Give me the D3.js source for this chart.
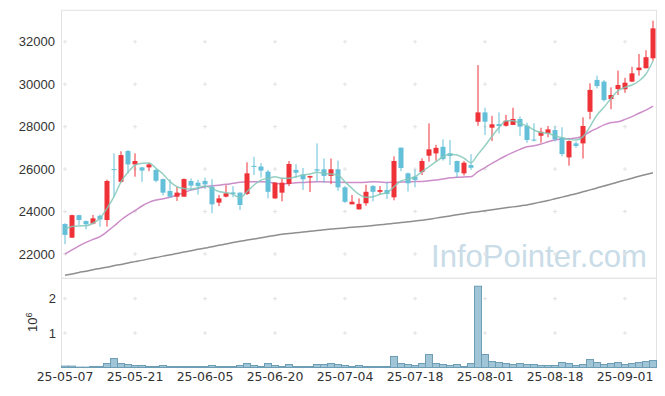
<!DOCTYPE html>
<html>
<head>
<meta charset="utf-8">
<title>Price chart</title>
<script src="https://cdn.jsdelivr.net/npm/d3@7"></script>
<style>
  body { margin: 0; background: #fff; }
  text { font-family: "Liberation Sans", Arial, sans-serif; }
</style>
</head>
<body>
<svg id="chart" width="665" height="396"></svg>
<script>
// trading days, yy-mm-dd
var dates = [
  "25-05-07","25-05-08","25-05-09","25-05-12","25-05-13","25-05-14","25-05-15","25-05-16","25-05-19","25-05-20",
  "25-05-21","25-05-22","25-05-23","25-05-26","25-05-27","25-05-28","25-05-29","25-05-30","25-06-02","25-06-04",
  "25-06-05","25-06-09","25-06-10","25-06-11","25-06-12","25-06-13","25-06-16","25-06-17","25-06-18","25-06-19",
  "25-06-20","25-06-23","25-06-24","25-06-25","25-06-26","25-06-27","25-06-30","25-07-01","25-07-02","25-07-03",
  "25-07-04","25-07-07","25-07-08","25-07-09","25-07-10","25-07-11","25-07-14","25-07-15","25-07-16","25-07-17",
  "25-07-18","25-07-21","25-07-22","25-07-23","25-07-24","25-07-25","25-07-28","25-07-29","25-07-30","25-07-31",
  "25-08-01","25-08-04","25-08-05","25-08-06","25-08-07","25-08-08","25-08-11","25-08-12","25-08-13","25-08-14",
  "25-08-18","25-08-19","25-08-20","25-08-21","25-08-22","25-08-25","25-08-26","25-08-27","25-08-28","25-08-29",
  "25-09-01","25-09-02","25-09-03","25-09-04","25-09-05"
];

var open = [
  23410,22770,23830,23550,23430,23800,23600,26000,25400,26850,
  26220,26080,26080,25960,25530,24970,24700,24700,25440,25360,
  25440,25170,24420,24700,24900,24890,24830,26150,26120,25880,
  24620,24890,25300,25960,25750,25600,25990,25990,25680,25990,
  25140,24340,24100,24390,25200,24930,25010,24670,27010,25800,
  25640,25860,26630,26740,27050,26740,26380,25800,26190,28230,
  28670,27950,28120,28040,28080,28360,28040,27390,27570,27690,
  27840,27480,26550,27210,27210,28700,30200,30120,29300,29770,
  29760,30120,30660,30750,31220
];
var high = [
  23450,23850,23850,23580,23840,23860,25500,26740,26840,26900,
  26740,26100,26300,26030,25550,25520,25170,25560,25560,25500,
  25600,25520,24780,25240,25200,24900,26320,26580,26280,25960,
  25380,25580,26380,26230,26050,25690,27210,26500,26500,26400,
  25200,24780,24620,25260,25250,25200,25380,26600,27010,25840,
  25990,26510,28150,27140,27400,27370,26400,26380,26700,30900,
  28890,28510,28670,28550,28890,28480,28190,28160,27950,28030,
  28000,27970,27350,27300,28440,30040,30400,30200,29850,30640,
  30300,30820,31420,31600,32990
];
var low = [
  22460,22750,23370,23160,23400,23290,23290,24700,25360,25800,
  25640,25400,25900,25380,24760,24650,24500,24700,24990,24800,
  25060,23920,24260,24670,24670,24070,24780,25720,25600,24620,
  24590,24480,25200,25580,25020,24920,25400,25350,25290,24970,
  24400,24340,24100,24270,24480,24810,24590,24530,25900,24940,
  25140,25720,26350,26390,26400,26190,25600,25700,25960,28040,
  27600,27320,27680,28000,28080,27560,27240,27300,27240,27500,
  27300,26600,26160,27000,26500,28350,29800,29180,28820,29490,
  29590,30100,30400,30750,31100
];
var close = [
  22900,23830,23600,23400,23680,23630,25440,25980,26660,26220,
  26380,25930,26220,25450,24890,24700,24890,25530,25220,25200,
  25280,24340,24620,24860,24830,24310,25800,26140,25930,24930,
  25360,25360,26240,25830,25520,25670,25930,25680,25990,25140,
  24460,24460,24360,24930,24930,25010,24830,26380,26050,25330,
  25490,26380,26930,27000,26470,26620,25850,26300,26060,28670,
  28230,28110,28030,28280,28360,28000,27370,27370,27760,27870,
  27400,26710,27320,27090,28030,29730,29910,29250,29490,29960,
  30070,30510,30780,31270,32630
];
var volume = [
  40000,40000,10000,10000,30000,30000,116000,260000,116000,87000,
  58000,58000,29000,29000,58000,29000,29000,29000,29000,29000,
  29000,58000,29000,29000,29000,58000,116000,58000,29000,116000,
  58000,29000,87000,29000,29000,29000,87000,87000,116000,87000,
  58000,29000,58000,29000,29000,29000,29000,320000,116000,87000,
  58000,116000,377000,116000,87000,58000,87000,29000,116000,2360000,
  377000,174000,145000,116000,87000,116000,87000,87000,58000,58000,
  58000,145000,116000,58000,87000,232000,145000,87000,116000,145000,
  87000,116000,145000,174000,203000
];

// moving averages as drawn
var ma5 = [
  23180,23290,23320,23330,23450,23680,24150,24700,25400,25850,
  26180,26270,26290,26040,25770,25410,25170,25090,25060,25120,
  25200,25090,24940,24890,24810,24650,24930,25250,25480,25560,
  25640,25570,25570,25640,25720,25770,25850,25800,25770,25720,
  25400,25090,24810,24670,24700,24810,24890,25170,25440,25530,
  25640,25880,26110,26350,26580,26700,26660,26510,26300,26700,
  27100,27550,27950,28280,28280,28160,28030,27840,27720,27690,
  27560,27480,27400,27370,27530,28000,28550,28910,29330,29690,
  29850,29960,30150,30480,31090
];
var ma20 = [
  21990,22190,22380,22550,22690,22820,23050,23320,23600,23840,
  24040,24260,24430,24540,24600,24670,24780,24890,25010,25090,
  25170,25220,25240,25280,25330,25380,25400,25400,25400,25390,
  25330,25300,25320,25360,25370,25390,25400,25400,25390,25380,
  25370,25370,25370,25380,25400,25390,25370,25380,25390,25400,
  25410,25420,25450,25490,25530,25590,25610,25630,25640,25880,
  26070,26270,26460,26630,26790,26930,27050,27100,27180,27290,
  27370,27420,27430,27460,27560,27760,27920,28080,28190,28230,
  28340,28470,28630,28780,28970
];
var ma60 = [
  21000,21060,21130,21190,21260,21320,21380,21450,21510,21580,
  21640,21700,21770,21830,21900,21960,22020,22090,22150,22220,
  22280,22340,22410,22470,22540,22600,22655,22710,22765,22820,
  22875,22930,22965,23000,23035,23070,23105,23140,23175,23200,
  23230,23255,23285,23310,23340,23375,23410,23445,23480,23515,
  23550,23590,23640,23690,23745,23795,23850,23900,23950,23995,
  24040,24085,24130,24175,24220,24265,24310,24380,24450,24520,
  24600,24680,24760,24840,24930,25020,25110,25200,25300,25390,
  25480,25570,25660,25745,25830
];

var priceTicks = [22000, 24000, 26000, 28000, 30000, 32000];
var volTicks = [1e6, 2e6];
var dateTicks = dates.filter(function (d, i) { return i % 10 == 0; });

var svg = d3.select("#chart");
var plotLeft = 61.5, plotRight = 656.5;
var plotTop = 10.3, plotMid = 278.3, plotBottom = 367.5;

var x = d3.scaleBand().domain(dates).range([plotLeft, plotRight]).padding(0);
var cx = function (d) { return x(d) + x.bandwidth() / 2; };
var y = d3.scaleLinear().domain([20855, 33480]).range([plotMid, plotTop]);
var yv = d3.scaleLinear().domain([0, 2.59e6]).range([plotBottom, plotMid]);

// watermark
svg.append("text")
  .attr("x", 431).attr("y", 267)
  .attr("textLength", 216).attr("lengthAdjust", "spacingAndGlyphs")
  .style("font-size", "32px").style("fill", "#c9dce7")
  .text("InfoPointer.com");

// frames
var frame = svg.append("g").attr("stroke", "#e3e3e3").attr("fill", "none");
frame.append("rect").attr("x", plotLeft).attr("y", plotTop)
  .attr("width", plotRight - plotLeft).attr("height", plotMid - plotTop);
frame.append("rect").attr("x", plotLeft).attr("y", plotMid)
  .attr("width", plotRight - plotLeft).attr("height", plotBottom - plotMid);

// grid crosses
function crosses(g, ys, scale) {
  dateTicks.forEach(function (d) {
    ys.forEach(function (v) {
      var px = cx(d), py = scale(v);
      g.append("path")
        .attr("d", "M" + (px - 2) + "," + py + "h4M" + px + "," + (py - 2) + "v4")
        .attr("stroke", "#e2e2e2").attr("stroke-width", 1);
    });
  });
}
var grid = svg.append("g");
crosses(grid, priceTicks, y);
crosses(grid, volTicks, yv);

// price labels
svg.append("g").selectAll("text").data(priceTicks).join("text")
  .attr("x", 55).attr("y", function (d) { return y(d); }).attr("dy", "0.35em")
  .attr("text-anchor", "end").style("font-size", "13px").style("fill", "#333")
  .text(function (d) { return d; });

// volume labels
svg.append("g").selectAll("text").data(volTicks).join("text")
  .attr("x", 56).attr("y", function (d) { return yv(d); }).attr("dy", "0.35em")
  .attr("text-anchor", "end").style("font-size", "13px").style("fill", "#333")
  .text(function (d) { return d / 1e6; });

var unit = svg.append("text")
  .attr("transform", "translate(37,332) rotate(-90)")
  .style("font-size", "13px").style("fill", "#333");
unit.append("tspan").text("10");
unit.append("tspan").attr("dy", "-5").style("font-size", "9px").text("6");

// date labels
svg.append("g").selectAll("text").data(dateTicks).join("text")
  .attr("x", function (d) { return cx(d); }).attr("y", 381)
  .attr("text-anchor", "middle")
  .style("font-family", "'DejaVu Sans', sans-serif")
  .style("font-size", "12.5px").style("fill", "#333")
  .text(function (d) { return d; });

// volume bars
svg.append("g").selectAll("rect").data(volume).join("rect")
  .attr("x", function (d, i) { return x(dates[i]); })
  .attr("width", x.bandwidth())
  .attr("y", function (d) { return yv(d); })
  .attr("height", function (d) { return plotBottom - yv(d); })
  .attr("fill", "#9fc5d7").attr("stroke", "#6e9db6").attr("stroke-width", 1);

// moving averages
function drawLine(vals, color) {
  var line = d3.line()
    .x(function (d, i) { return cx(dates[i]); })
    .y(function (d) { return y(d); })
    .curve(d3.curveMonotoneX);
  svg.append("path").datum(vals)
    .attr("d", line).attr("fill", "none")
    .attr("stroke", color).attr("stroke-width", 1.5);
}
drawLine(ma60, "#8e8e8e");
drawLine(ma20, "#cc8dc9");

// candles
var up = "#ee3238", down = "#64bfd8";
var candles = svg.append("g").selectAll("g").data(dates).join("g");
candles.append("line")
  .attr("x1", function (d) { return cx(d); }).attr("x2", function (d) { return cx(d); })
  .attr("y1", function (d, i) { return y(high[i]); })
  .attr("y2", function (d, i) { return y(low[i]); })
  .attr("stroke", function (d, i) { return close[i] > open[i] ? up : down; })
  .attr("stroke-width", 1);
candles.append("rect")
  .attr("x", function (d) { return cx(d) - 2.5; })
  .attr("width", 5)
  .attr("y", function (d, i) { return y(Math.max(open[i], close[i])); })
  .attr("height", function (d, i) { return Math.max(1, Math.abs(y(open[i]) - y(close[i]))); })
  .attr("fill", function (d, i) { return close[i] > open[i] ? up : down; });

drawLine(ma5, "rgba(130,200,185,0.85)");
</script>
</body>
</html>
